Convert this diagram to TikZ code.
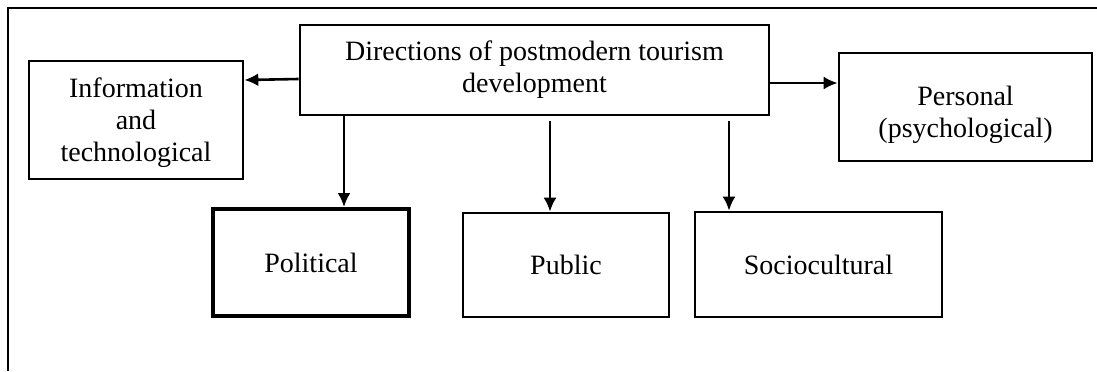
\documentclass[tikz,border=0pt]{standalone}
\usepackage{fontspec}
\setmainfont{Liberation Serif}
\usepackage{tikz}
\usetikzlibrary{calc, arrows.meta}

\begin{document}
\begin{tikzpicture}[>={Latex[length=7pt, width=6.5pt]}, x=0.5pt, y=-0.5pt, line width=1.3pt,
  box/.style={draw, rectangle, align=center, inner sep=0pt,
    font=\fontsize{14}{16}\selectfont},
  thickbox/.style={box, line width=2pt}]
\useasboundingbox (0,0) rectangle (1097,371);
\draw (8,371) -- (8,8) -- (1097,8);
\node[box, minimum width=234.5pt, minimum height=45pt] (dir) at (534.5,70) {Directions of postmodern tourism\\development};
\node[box, minimum width=107pt, minimum height=59pt, text height=44.5pt, text depth=3pt] (info) at (136,120) {Information\\and\\technological};
\node[box, minimum width=126.5pt, minimum height=54pt, text height=33.5pt, text depth=3pt] (pers) at (965.5,107) {Personal\\(psychological)};
\node[thickbox, minimum width=98pt, minimum height=53.5pt] (pol) at (311,262.5) {Political};
\node[box, minimum width=103pt, minimum height=52pt] (pub) at (566,265) {Public};
\node[box, minimum width=123.5pt, minimum height=52.5pt] (soc) at (818.5,264.5) {Sociocultural};
\draw[->] ($(dir.west)+(0,9)$) to ($(info.east)+(0,-40)$);
\draw[->] ($(dir.east)+(0,13)$) to ($(pers.west)+(0,-24)$);
\draw[->] ($(pol.north |- dir.south)+(33,0)$) to ($(pol.north)+(33,0)$);
\draw[->, shorten <=2.5pt] ($(pub.north |- dir.south)+(-16,0)$) to ($(pub.north)+(-16,0)$);
\draw[->, shorten <=2.5pt] ($(soc.north |- dir.south)+(-89.5,0)$) to ($(soc.north)+(-89.5,0)$);
\end{tikzpicture}
\end{document}
